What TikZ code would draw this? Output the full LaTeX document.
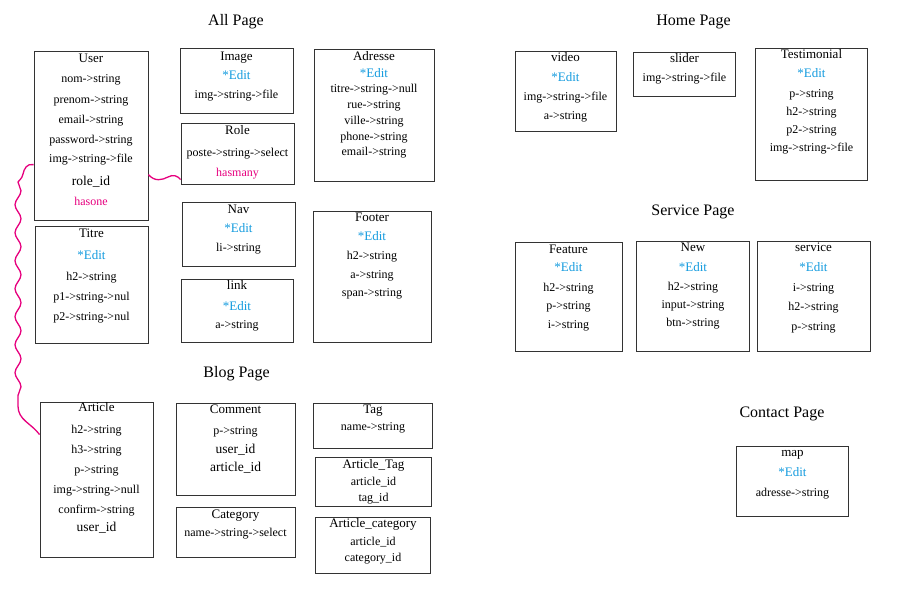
\documentclass[tikz,border=0pt]{standalone}
\usepackage{fontspec}
\setmainfont{Liberation Serif}
\usetikzlibrary{fit,decorations.pathmorphing}
\definecolor{editblue}{RGB}{20,155,222}
\definecolor{relpink}{RGB}{230,0,126}
\newcommand{\ebox}[5]{\node[ebox, fit={(#2,#3)(#4,#5)}] (#1) {};}
\newcommand{\etxt}[5]{\node[#2] (#1) at (#3,#4) {#5};}
\tikzset{
  ebox/.style={draw=black!80, line width=0.8pt, inner sep=0pt, rectangle},
  base/.style={anchor=base, inner sep=0pt},
  fld/.style={base, font=\fontsize{12}{14}\selectfont},
  ttl/.style={base, font=\fontsize{13}{15}\selectfont},
  idf/.style={base, font=\fontsize{13.5}{15}\selectfont},
  edt/.style={base, font=\fontsize{13}{15}\selectfont, text=editblue},
  rel/.style={base, font=\fontsize{12}{14}\selectfont, text=relpink},
  head/.style={base, font=\fontsize{16}{18}\selectfont},
  rlink/.style={draw=relpink, line width=1.3pt},
}
\begin{document}
\begin{tikzpicture}[x=1pt,y=-1pt]
\useasboundingbox (0,0) rectangle (899,595);
% headings
\etxt{hAll}{head}{236}{25}{All Page}
\etxt{hBlog}{head}{236.5}{377}{Blog Page}
\etxt{hHome}{head}{693.5}{25}{Home Page}
\etxt{hServ}{head}{693}{215}{Service Page}
\etxt{hCont}{head}{782}{417}{Contact Page}
% User
\ebox{user}{34}{51}{148}{220}
\etxt{user1}{ttl}{91}{62}{User}
\etxt{user2}{fld}{91}{82.5}{nom->string}
\etxt{user3}{fld}{91}{103}{prenom->string}
\etxt{user4}{fld}{91}{123}{email->string}
\etxt{user5}{fld}{91}{143.5}{password->string}
\etxt{user6}{fld}{91}{162.5}{img->string->file}
\etxt{user7}{idf}{91}{185}{role\_id}
\etxt{user8}{rel}{91}{205.5}{hasone}
% Titre
\ebox{titre}{35}{226}{148}{343}
\etxt{titre1}{ttl}{91.5}{237}{Titre}
\etxt{titre2}{edt}{91.5}{259.5}{*Edit}
\etxt{titre3}{fld}{91.5}{280}{h2->string}
\etxt{titre4}{fld}{91.5}{300}{p1->string->nul}
\etxt{titre5}{fld}{91.5}{320}{p2->string->nul}
% Image
\ebox{image}{180}{48}{293}{113}
\etxt{image1}{ttl}{236.5}{60}{Image}
\etxt{image2}{edt}{236.5}{79}{*Edit}
\etxt{image3}{fld}{236.5}{98.5}{img->string->file}
% Role
\ebox{role}{181}{123}{294}{184}
\etxt{role1}{ttl}{237.5}{134.5}{Role}
\etxt{role2}{fld}{237.5}{156.5}{poste->string->select}
\etxt{role3}{rel}{237.5}{176}{hasmany}
% Nav
\ebox{nav}{182}{202}{295}{266}
\etxt{nav1}{ttl}{238.5}{213.5}{Nav}
\etxt{nav2}{edt}{238.5}{232.5}{*Edit}
\etxt{nav3}{fld}{238.5}{251}{li->string}
% link
\ebox{lnk}{181}{279}{293}{342}
\etxt{lnk1}{ttl}{237}{289.5}{link}
\etxt{lnk2}{edt}{237}{310}{*Edit}
\etxt{lnk3}{fld}{237}{328.5}{a->string}
% Adresse
\ebox{adr}{314}{49}{434}{181}
\etxt{adr1}{ttl}{374}{60}{Adresse}
\etxt{adr2}{edt}{374}{77}{*Edit}
\etxt{adr3}{fld}{374}{92.5}{titre->string->null}
\etxt{adr4}{fld}{374}{108}{rue->string}
\etxt{adr5}{fld}{374}{124}{ville->string}
\etxt{adr6}{fld}{374}{140}{phone->string}
\etxt{adr7}{fld}{374}{155}{email->string}
% Footer
\ebox{foot}{313}{211}{431}{342}
\etxt{foot1}{ttl}{372}{221}{Footer}
\etxt{foot2}{edt}{372}{240}{*Edit}
\etxt{foot3}{fld}{372}{259}{h2->string}
\etxt{foot4}{fld}{372}{278}{a->string}
\etxt{foot5}{fld}{372}{296}{span->string}
% Article
\ebox{article}{40}{402}{153}{557.5}
\etxt{art1}{ttl}{96.5}{411.5}{Article}
\etxt{art2}{fld}{96.5}{433.5}{h2->string}
\etxt{art3}{fld}{96.5}{453.5}{h3->string}
\etxt{art4}{fld}{96.5}{473.5}{p->string}
\etxt{art5}{fld}{96.5}{493.5}{img->string->null}
\etxt{art6}{fld}{96.5}{513.5}{confirm->string}
\etxt{art7}{idf}{96.5}{531.5}{user\_id}
% Comment
\ebox{comment}{176}{403}{295.5}{495.5}
\etxt{com1}{ttl}{235.5}{413.5}{Comment}
\etxt{com2}{fld}{235.5}{434}{p->string}
\etxt{com3}{idf}{235.5}{453.5}{user\_id}
\etxt{com4}{idf}{235.5}{471.5}{article\_id}
% Category
\ebox{category}{176}{507}{295.5}{557.5}
\etxt{cat1}{ttl}{235.5}{518.5}{Category}
\etxt{cat2}{fld}{235.5}{536}{name->string->select}
% Tag
\ebox{tag}{313.5}{403}{432.5}{448.5}
\etxt{tag1}{ttl}{373}{413.5}{Tag}
\etxt{tag2}{fld}{373}{430.5}{name->string}
% Article_Tag
\ebox{arttag}{315.5}{457}{431.5}{506.5}
\etxt{at1}{ttl}{373.5}{468.5}{Article\_Tag}
\etxt{at2}{fld}{373.5}{485}{article\_id}
\etxt{at3}{fld}{373.5}{501.5}{tag\_id}
% Article_category
\ebox{artcat}{315.5}{517}{430.5}{573}
\etxt{ac1}{ttl}{373}{527.5}{Article\_category}
\etxt{ac2}{fld}{373}{545}{article\_id}
\etxt{ac3}{fld}{373}{561.5}{category\_id}
% video
\ebox{video}{515}{51}{616}{131.5}
\etxt{vid1}{ttl}{565.5}{61.5}{video}
\etxt{vid2}{edt}{565.5}{81.5}{*Edit}
\etxt{vid3}{fld}{565.5}{100}{img->string->file}
\etxt{vid4}{fld}{565.5}{119}{a->string}
% slider
\ebox{slider}{633.5}{52.5}{735.5}{96.5}
\etxt{sl1}{ttl}{684.5}{62.5}{slider}
\etxt{sl2}{fld}{684.5}{81.5}{img->string->file}
% Testimonial
\ebox{testi}{755}{48}{867.5}{180.5}
\etxt{te1}{ttl}{811.5}{58.5}{Testimonial}
\etxt{te2}{edt}{811.5}{77.5}{*Edit}
\etxt{te3}{fld}{811.5}{97}{p->string}
\etxt{te4}{fld}{811.5}{115}{h2->string}
\etxt{te5}{fld}{811.5}{133}{p2->string}
\etxt{te6}{fld}{811.5}{151.5}{img->string->file}
% Feature
\ebox{feature}{515}{242.5}{622}{351.5}
\etxt{fe1}{ttl}{568.5}{253.5}{Feature}
\etxt{fe2}{edt}{568.5}{271.5}{*Edit}
\etxt{fe3}{fld}{568.5}{291}{h2->string}
\etxt{fe4}{fld}{568.5}{309.5}{p->string}
\etxt{fe5}{fld}{568.5}{328}{i->string}
% New
\ebox{new}{636}{241}{749.5}{351}
\etxt{ne1}{ttl}{693}{251.5}{New}
\etxt{ne2}{edt}{693}{271}{*Edit}
\etxt{ne3}{fld}{693}{290}{h2->string}
\etxt{ne4}{fld}{693}{308.5}{input->string}
\etxt{ne5}{fld}{693}{326.5}{btn->string}
% service
\ebox{service}{757}{241}{870}{351.5}
\etxt{se1}{ttl}{813.5}{251.5}{service}
\etxt{se2}{edt}{813.5}{271}{*Edit}
\etxt{se3}{fld}{813.5}{291}{i->string}
\etxt{se4}{fld}{813.5}{310.5}{h2->string}
\etxt{se5}{fld}{813.5}{330}{p->string}
% map
\ebox{map}{736}{446}{848.5}{516}
\etxt{map1}{ttl}{792.5}{456.5}{map}
\etxt{map2}{edt}{792.5}{476.5}{*Edit}
\etxt{map3}{fld}{792.5}{496}{adresse->string}
% relations
\coordinate (uR) at ([yshift=-124pt]user.north east);
\coordinate (rL) at ([yshift=-57pt]role.north west);
\coordinate (uL) at ([yshift=-114pt]user.north west);
\coordinate (aL) at ([yshift=-33pt]article.north west);
\draw[rlink] (uR) .. controls (155,182) and (162,180) .. (168,177)
  .. controls (173,174) and (178,176) .. (rL);
\draw[rlink] (uL) .. controls (27,163) and (24,169) .. (23,174)
  .. controls (22,179) and (19,180) .. (18,182)
  decorate[decoration={snake,amplitude=3pt,segment length=28pt}] {-- (18,406)}
  .. controls (18,420) and (31,423) .. (aL);
\end{tikzpicture}
\end{document}
